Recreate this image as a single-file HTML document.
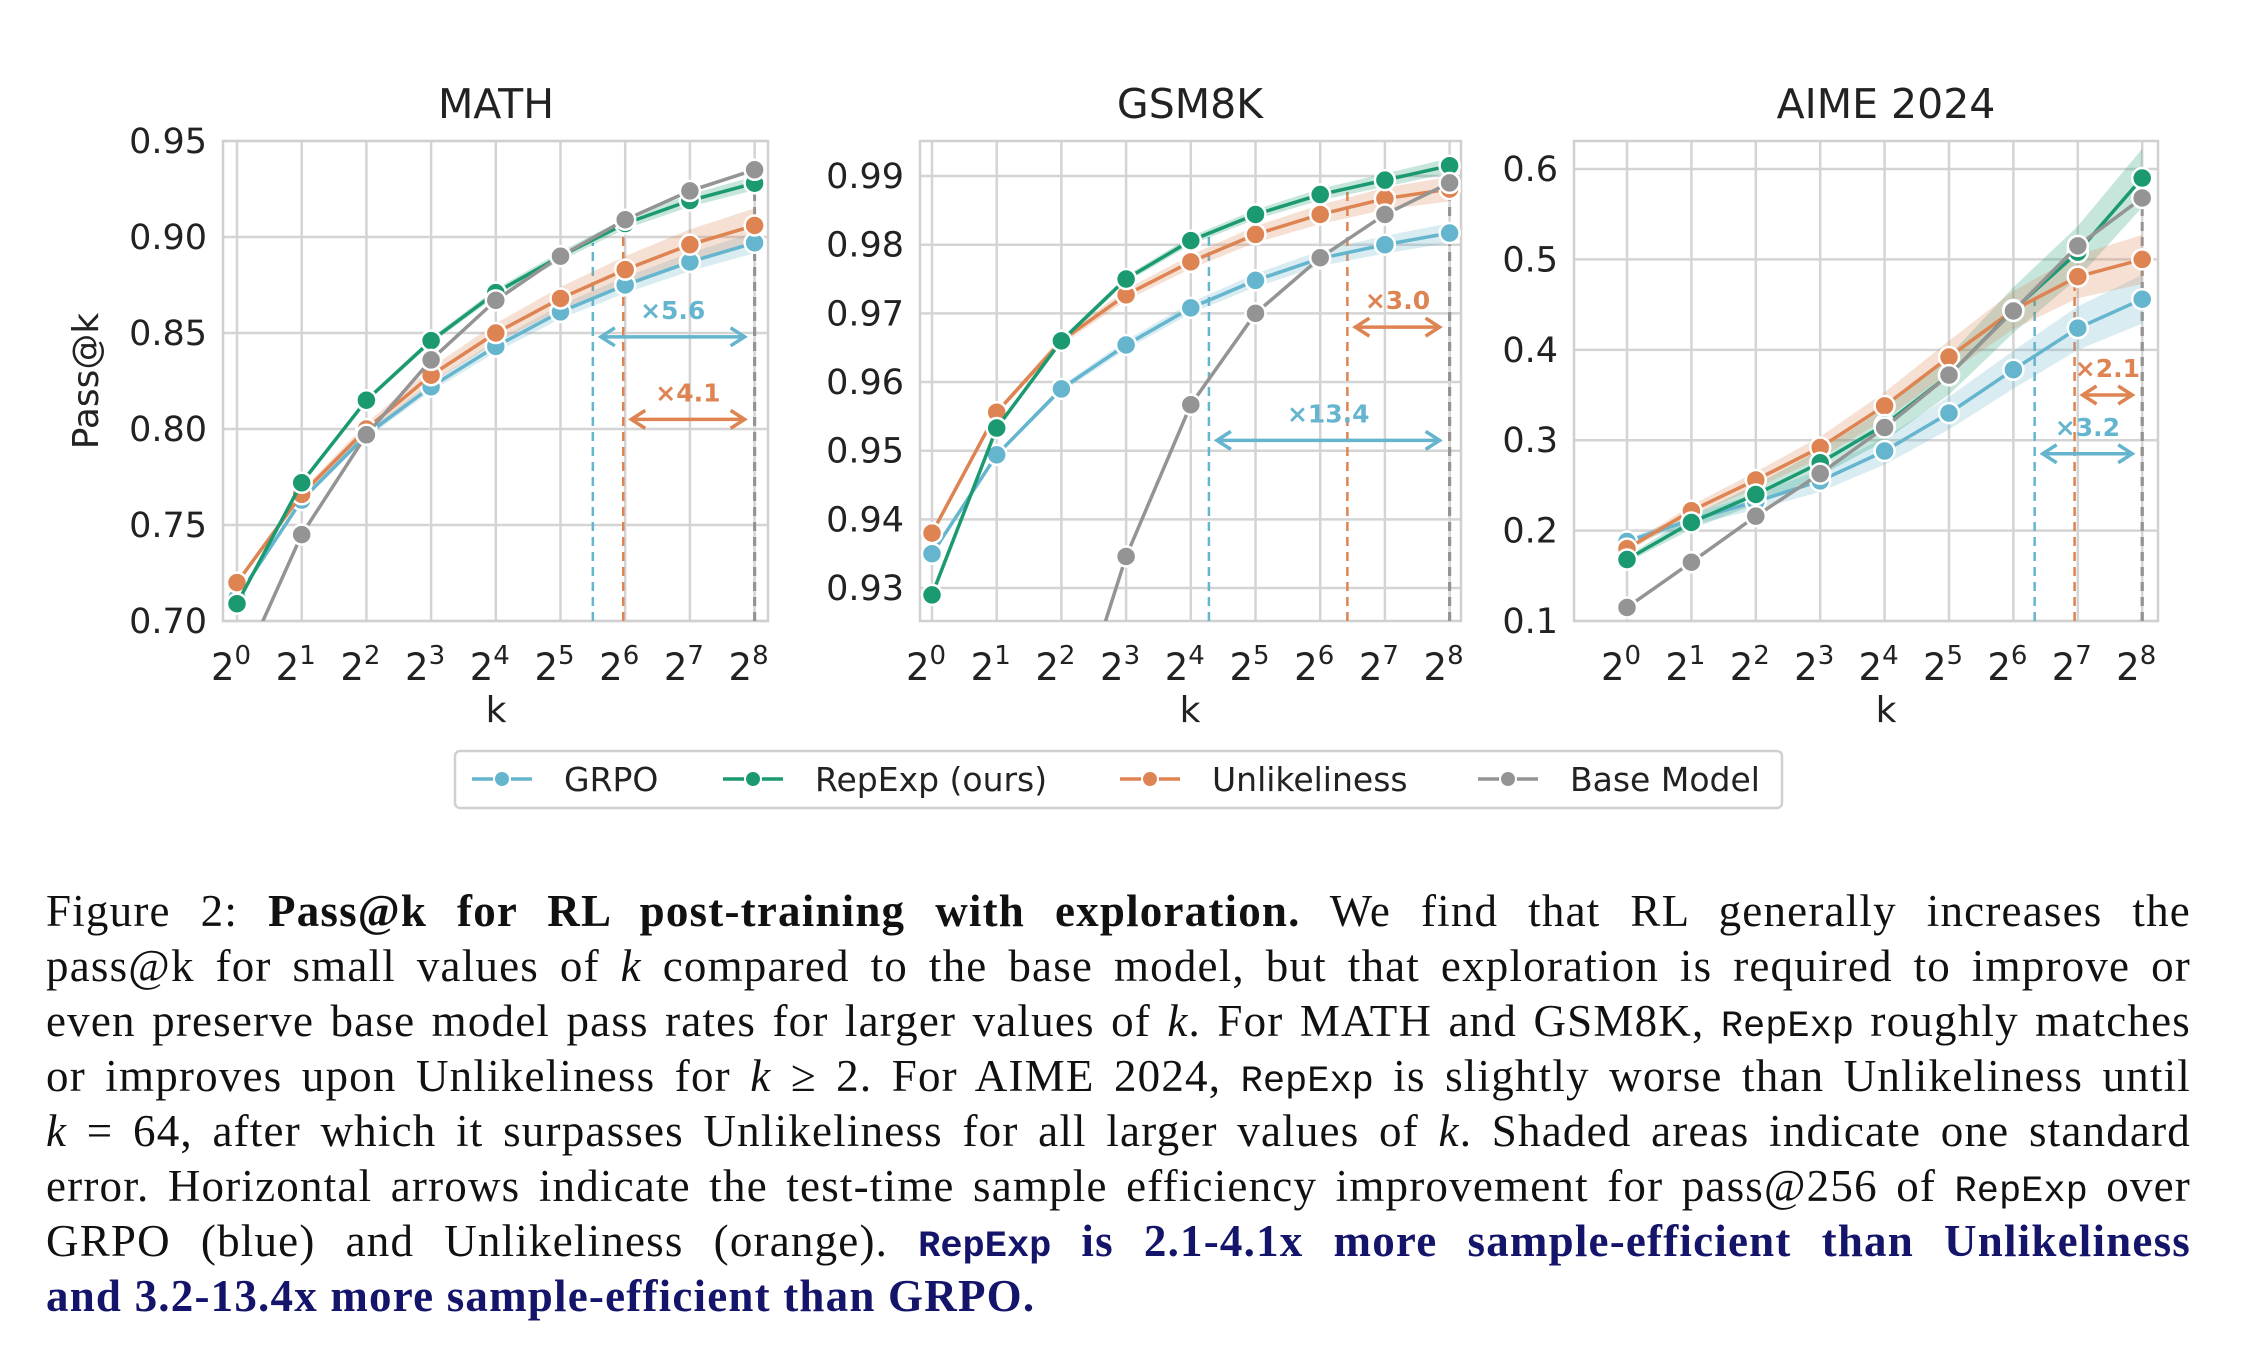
<!DOCTYPE html>
<html><head><meta charset="utf-8">
<style>
html,body{margin:0;padding:0;background:#fff;}
body{width:2244px;height:1360px;position:relative;overflow:hidden;}
svg{position:absolute;left:0;top:0;}
#caption{position:absolute;left:46px;top:884px;width:2145px;font-family:"Liberation Serif",serif;font-size:45px;letter-spacing:1.2px;line-height:55px;color:#111;}
#caption .ln{text-align:justify;text-align-last:justify;white-space:nowrap;height:55px;}
#caption .ln.last{text-align-last:left;}
#caption .mono{font-family:"Liberation Mono",monospace;font-size:37px;letter-spacing:0;}
#caption .hl{color:#14146b;font-weight:bold;}
</style></head>
<body>
<svg id="chart" width="2244" height="880" xmlns="http://www.w3.org/2000/svg"></svg>
<div id="caption">
<div class="ln">Figure 2: <b>Pass@k for RL post-training with exploration.</b> We find that RL generally increases the</div>
<div class="ln">pass@k for small values of <i>k</i> compared to the base model, but that exploration is required to improve or</div>
<div class="ln">even preserve base model pass rates for larger values of <i>k</i>. For MATH and GSM8K, <span class="mono">RepExp</span> roughly matches</div>
<div class="ln">or improves upon Unlikeliness for <i>k</i> ≥ 2. For AIME 2024, <span class="mono">RepExp</span> is slightly worse than Unlikeliness until</div>
<div class="ln"><i>k</i> = 64, after which it surpasses Unlikeliness for all larger values of <i>k</i>. Shaded areas indicate one standard</div>
<div class="ln">error. Horizontal arrows indicate the test-time sample efficiency improvement for pass@256 of <span class="mono">RepExp</span> over</div>
<div class="ln">GRPO (blue) and Unlikeliness (orange). <span class="hl"><span class="mono">RepExp</span> is 2.1-4.1x more sample-efficient than Unlikeliness</span></div>
<div class="ln last"><span class="hl">and 3.2-13.4x more sample-efficient than GRPO.</span></div>
</div>
<script>
const kExponents = [0,1,2,3,4,5,6,7,8];
const seriesNames = ["GRPO","RepExp (ours)","Unlikeliness","Base Model"];
const mathGRPO = [0.712,0.763,0.797,0.822,0.843,0.861,0.875,0.887,0.897];
const mathRepExp = [0.709,0.772,0.815,0.846,0.871,0.890,0.907,0.919,0.928];
const mathUnlik = [0.720,0.766,0.800,0.828,0.850,0.868,0.883,0.896,0.906];
const mathBase = [0.67,0.745,0.797,0.836,0.867,0.890,0.909,0.924,0.935];
const gsmGRPO = [0.935,0.9494,0.959,0.9654,0.9708,0.9748,0.978,0.980,0.9817];
const gsmRepExp = [0.929,0.9533,0.966,0.975,0.9806,0.9844,0.9873,0.9894,0.9915];
const gsmUnlik = [0.938,0.9556,0.966,0.9727,0.9775,0.9815,0.9844,0.9867,0.9881];
const gsmBase = [0.87,0.89,0.905,0.9346,0.9567,0.970,0.9781,0.9844,0.989];
const aimeGRPO = [0.188,0.212,0.232,0.255,0.288,0.330,0.378,0.424,0.456];
const aimeRepExp = [0.168,0.209,0.240,0.275,0.317,0.372,0.444,0.508,0.590];
const aimeUnlik = [0.180,0.222,0.256,0.292,0.338,0.392,0.444,0.481,0.500];
const aimeBase = [0.115,0.165,0.216,0.263,0.314,0.372,0.443,0.515,0.568];
const mathTicks = ["0.70","0.75","0.80","0.85","0.90","0.95"];
const gsmTicks = ["0.93","0.94","0.95","0.96","0.97","0.98","0.99"];
const aimeTicks = ["0.1","0.2","0.3","0.4","0.5","0.6"];
const mathArrows = [{from:5.5,to:8,y:0.848,label:"×5.6",c:0},{from:5.97,to:8,y:0.805,label:"×4.1",c:2}];
const gsmArrows = [{from:4.28,to:8,y:0.9515,label:"×13.4",c:0},{from:6.42,to:8,y:0.968,label:"×3.0",c:2}];
const aimeArrows = [{from:6.33,to:8,y:0.285,label:"×3.2",c:0},{from:6.95,to:8,y:0.35,label:"×2.1",c:2}];

const COLORS = ["#64b5cd","#1b9a72","#dd8452","#949494"];
const NS = "http://www.w3.org/2000/svg";
const svg = document.getElementById("chart");
function mk(tag, attrs, parent){
  const e = document.createElementNS(NS, tag);
  for (const k in attrs) e.setAttribute(k, attrs[k]);
  (parent||svg).appendChild(e);
  return e;
}
const panels = [
  {title:"MATH", tx:496, left:223, right:768, ymin:0.70, ymax:0.95, ticks:mathTicks, data:[mathGRPO,mathRepExp,mathUnlik,mathBase], arrows:mathArrows, x0:237, dx:64.7, band:[0.003,0.002,0.005,0], ylabel:true},
  {title:"GSM8K", tx:1190, left:920, right:1461, ymin:0.9252, ymax:0.9951, ticks:gsmTicks, data:[gsmGRPO,gsmRepExp,gsmUnlik,gsmBase], arrows:gsmArrows, x0:932, dx:64.7, band:[0.0008,0.0006,0.001,0]},
  {title:"AIME 2024", tx:1886, left:1574, right:2158, ymin:0.1, ymax:0.631, ticks:aimeTicks, data:[aimeGRPO,aimeRepExp,aimeUnlik,aimeBase], arrows:aimeArrows, x0:1627, dx:64.4, band:[0.015,0.018,0.015,0]}
];
const TOP=141, BOT=621;
panels.forEach((p, pi) => {
  const g = mk("g", {});
  
  
  const X = e => p.x0 + e * p.dx;
  const Y = v => BOT - (v - p.ymin) / (p.ymax - p.ymin) * (BOT - TOP);
  const clipId = "clip" + pi;
  const cp = mk("clipPath", {id: clipId}, g);
  mk("rect", {x:p.left, y:TOP, width:p.right-p.left, height:BOT-TOP}, cp);
  kExponents.forEach(e => {
    const l = mk("line", {x1:X(e), x2:X(e), y1:TOP, y2:BOT, stroke:"#d4d4d4", "stroke-width":2.5}, g);
    
    
    const t = mk("text", {x:X(e)-6, y:680, "font-size":37, "text-anchor":"middle", fill:"#222", "font-family":"DejaVu Sans, sans-serif"}, g);
    
    
    t.textContent = "2";
    const s = mk("tspan", {dy:-16, "font-size":26}, t);
    s.textContent = String(e);
  });
  p.ticks.forEach(tk => {
    const v = parseFloat(tk);
    const l = mk("line", {x1:p.left, x2:p.right, y1:Y(v), y2:Y(v), stroke:"#d4d4d4", "stroke-width":2.5}, g);
    
    
    const t = mk("text", {x:p.left-16, y:Y(v)+12, "font-size":35, "text-anchor":"end", fill:"#222", "font-family":"DejaVu Sans, sans-serif"}, g);
    
    
    t.textContent = tk;
  });
  const frame = mk("rect", {x:p.left, y:TOP, width:p.right-p.left, height:BOT-TOP, fill:"none", stroke:"#d0d0d0", "stroke-width":2.5}, g);
  
  
  const title = mk("text", {x:p.tx, y:118, "font-size":41, "text-anchor":"middle", fill:"#222", "font-family":"DejaVu Sans, sans-serif"}, g);
  
  
  title.textContent = p.title;
  const xl = mk("text", {x:p.tx, y:722, "font-size":36, "text-anchor":"middle", fill:"#222", "font-family":"DejaVu Sans, sans-serif"}, g);
  
  
  xl.textContent = "k";
  if (p.ylabel) {
    const yl = mk("text", {x:0, y:0, transform:"translate(98,381) rotate(-90)", "font-size":36, "text-anchor":"middle", fill:"#222", "font-family":"DejaVu Sans, sans-serif"}, g);
    
    
    yl.textContent = "Pass@k";
  }
  const plot = mk("g", {"clip-path":"url(#"+clipId+")"}, g);
  const endVals = [p.data[0][8], p.data[2][8]];
  p.arrows.forEach(a => {
    const topV = endVals[a.c === 0 ? 0 : 1];
    const dl = mk("line", {x1:X(a.from), x2:X(a.from), y1:BOT, y2:Y(topV), stroke:COLORS[a.c], "stroke-width":2.5, "stroke-dasharray":"9,6"}, plot);
    
    
  });
  [0,2,3].forEach(si => {
    const dl = mk("line", {x1:X(8), x2:X(8), y1:BOT, y2:Y(p.data[si][8]), stroke:COLORS[si], "stroke-width":3, "stroke-dasharray":"9,6"}, plot);
    
    
  });
  p.data.forEach((arr, si) => {
    const b = p.band[si];
    if (!b) return;
    let d = "";
    arr.forEach((v,i) => { d += (i?"L":"M") + X(kExponents[i]) + "," + Y(v + b*(i+1)/5); });
    for (let i = arr.length-1; i >= 0; i--) d += "L" + X(kExponents[i]) + "," + Y(arr[i] - b*(i+1)/5);
    const band = mk("path", {d: d + "Z", fill:COLORS[si], opacity:0.25}, plot);
    
    
  });
  [0,2,1,3].forEach(si => {
    const arr = p.data[si];
    const pts = arr.map((v,i) => X(kExponents[i]) + "," + Y(v)).join(" ");
    const line = mk("polyline", {points:pts, fill:"none", stroke:COLORS[si], "stroke-width":3.5}, plot);
    
    
    arr.forEach((v,i) => {
      const c = mk("circle", {cx:X(kExponents[i]), cy:Y(v), r:10, fill:COLORS[si], stroke:"#fff", "stroke-width":2.5}, plot);
      
      
    });
  });
  p.arrows.forEach(a => {
    const col = COLORS[a.c];
    const x1 = X(a.from)+8, x2 = X(a.to)-10, y = Y(a.y);
    const ag = mk("g", {}, g);
    
    
    mk("line", {x1:x1, x2:x2, y1:y, y2:y, stroke:col, "stroke-width":3.5}, ag);
    mk("polyline", {points:(x1+14)+","+(y-9)+" "+x1+","+y+" "+(x1+14)+","+(y+9), fill:"none", stroke:col, "stroke-width":3.5}, ag);
    mk("polyline", {points:(x2-14)+","+(y-9)+" "+x2+","+y+" "+(x2-14)+","+(y+9), fill:"none", stroke:col, "stroke-width":3.5}, ag);
    const t = mk("text", {x:(x1+x2)/2, y:y-18, "font-size":25, "font-weight":"bold", "text-anchor":"middle", fill:col, "font-family":"DejaVu Sans, sans-serif"}, ag);
    
    
    t.textContent = a.label;
  });
});
const lg = mk("g", {});


mk("rect", {x:455, y:751, width:1327, height:57, rx:5, fill:"#fff", stroke:"#d0d0d0", "stroke-width":2.5}, lg);
const legendX = [472, 723, 1120, 1478];
seriesNames.forEach((n, i) => {
  const e = mk("g", {}, lg);
  
  
  const x = legendX[i], y = 779;
  mk("line", {x1:x, x2:x+60, y1:y, y2:y, stroke:COLORS[i], "stroke-width":3.5}, e);
  mk("circle", {cx:x+30, cy:y, r:8, fill:COLORS[i], stroke:"#fff", "stroke-width":2}, e);
  const t = mk("text", {x:x+92, y:y+12, "font-size":33, fill:"#222", "font-family":"DejaVu Sans, sans-serif"}, e);
  t.textContent = n;
});
</script>
</body></html>
